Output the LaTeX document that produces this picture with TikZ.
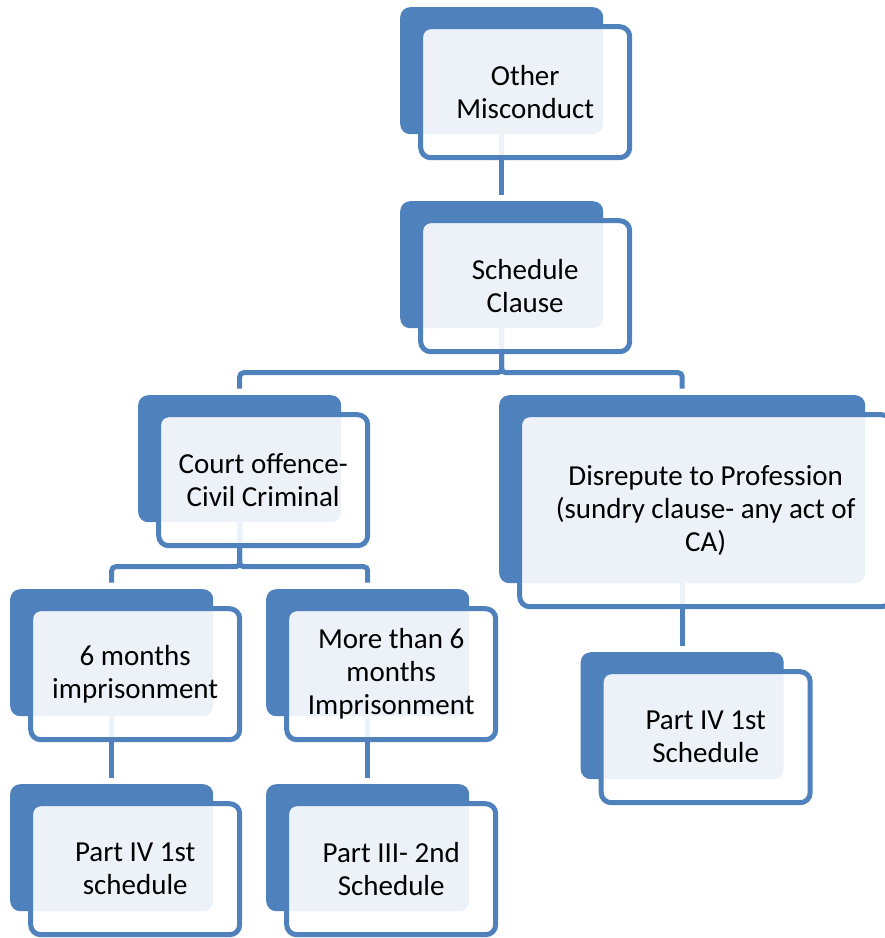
\documentclass[tikz,border=0pt]{standalone}
\usepackage{fontspec}
\setmainfont{Carlito}
\usetikzlibrary{calc}
\definecolor{boxblue}{HTML}{4F81BD}
\tikzset{>=latex}
\pgfdeclarelayer{bg}
\pgfsetlayers{bg,main}

\begin{document}
\begin{tikzpicture}[x=1pt, y=-1pt,
    backbox/.style={fill=boxblue, rounded corners=10pt, inner sep=0pt, anchor=north west,
        minimum width=203pt, minimum height=127pt},
    frontbox/.style={draw=boxblue, line width=5pt, fill=white, fill opacity=.9, text opacity=1,
        rounded corners=10pt, align=center, font=\fontsize{29}{33}\selectfont,
        minimum width=209pt, minimum height=131pt},
    conn/.style={draw=boxblue, line width=5pt, rounded corners=4pt, shorten >=6.5pt}]
    \useasboundingbox (0,0) rectangle (885,938);
    % back boxes at their top left corners, front boxes shifted from them
    \node[backbox] (otherb) at (400,7) {};
    \node[frontbox] (other) at ($(otherb.center)+(23.5,21.5)$) {Other\\Misconduct};
    \node[backbox] (schedb) at (400,201) {};
    \node[frontbox] (sched) at ($(schedb.center)+(23.5,21.5)$) {Schedule\\Clause};
    \node[backbox] (courtb) at (138,395) {};
    \node[frontbox] (court) at ($(courtb.center)+(23.5,21.5)$) {Court offence-\\Civil Criminal};
    \node[backbox, minimum width=366pt, minimum height=188pt] (disrb) at (499,395) {};
    \node[frontbox, minimum width=372pt, minimum height=192pt] (disr) at ($(disrb.center)+(23.5,21.5)$)
        {Disrepute to Profession\\(sundry clause- any act of\\CA)};
    \node[backbox] (sixb) at (10,589) {};
    \node[frontbox] (six) at ($(sixb.center)+(23.5,21.5)$) {6 months\\imprisonment};
    \node[backbox] (moreb) at (266,589) {};
    \node[frontbox] (more) at ($(moreb.center)+(23.5,21.5)$) {More than 6\\months\\Imprisonment};
    \node[backbox] (partivlb) at (10,784) {};
    \node[frontbox] (partivl) at ($(partivlb.center)+(23.5,21.5)$) {Part IV 1st\\schedule};
    \node[backbox] (partiiib) at (266,784) {};
    \node[frontbox] (partiii) at ($(partiiib.center)+(23.5,21.5)$) {Part III- 2nd\\Schedule};
    \node[backbox] (partivrb) at (580.5,652) {};
    \node[frontbox] (partivr) at ($(partivrb.center)+(23.5,21.5)$) {Part IV 1st\\Schedule};
    \begin{pgfonlayer}{bg}
        \draw[conn] (otherb.center) -- (schedb.north);
        \draw[conn] (schedb.center) -- ++(0,108) -| (courtb.north);
        \draw[conn] (schedb.center) -- ++(0,108) -| (disrb.north);
        \draw[conn] (courtb.center) -- ++(0,108) -| (sixb.north);
        \draw[conn] (courtb.center) -- ++(0,108) -| (moreb.north);
        \draw[conn] (sixb.center) -- (partivlb.north);
        \draw[conn] (moreb.center) -- (partiiib.north);
        \draw[conn] (disrb.center) -- (partivrb.north);
    \end{pgfonlayer}
\end{tikzpicture}
\end{document}
